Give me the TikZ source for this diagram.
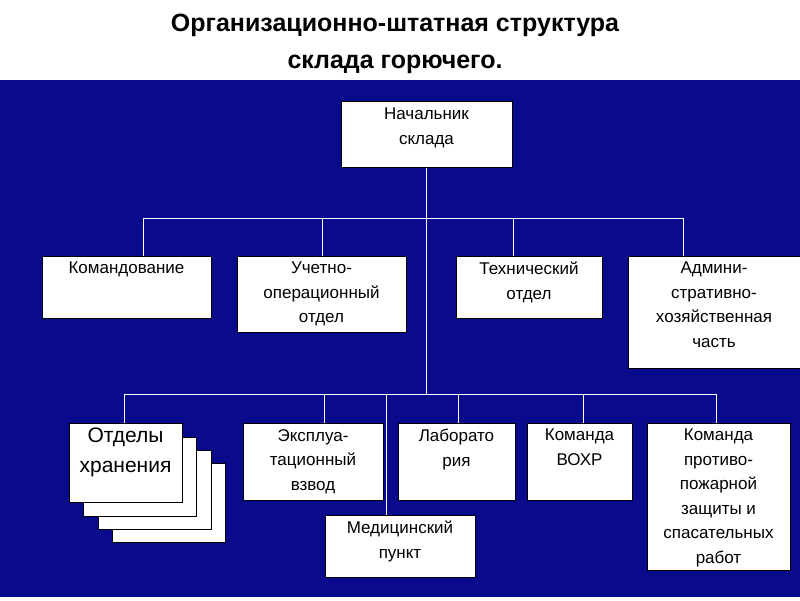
\documentclass[tikz,border=0pt]{standalone}
\usepackage{fontspec}
\setmainfont{Liberation Sans}
\begin{document}
\begin{tikzpicture}[x=1pt,y=-1pt,
 box/.style={draw=black,fill=white,line width=0.6pt},
 txt/.style={align=center,font=\fontsize{17}{24.5}\selectfont,anchor=north,inner sep=0pt},
 ln/.style={draw=white,line width=0.8pt}]
\fill[white] (0,0) rectangle (800,600);
\useasboundingbox (0,0) rectangle (800,600);
\fill[fill={rgb,255:red,10;green,10;blue,140}] (0,80) rectangle (800,597);
\node[font=\bfseries\fontsize{25}{37}\selectfont,align=center] (title) at (395,44) {Организационно-штатная структура\\склада горючего.};
% lines
\coordinate (t1) at (426,218); \coordinate (t2) at (426,394);
\draw[ln] (426,167) -- (t2);
\draw[ln] (143,256) -- (143,218) -- (683,218) -- (683,256);
\draw[ln] (322,218) -- (322,256); \draw[ln] (513,218) -- (513,256);
\draw[ln] (124,423) -- (124,394) -- (716,394) -- (716,423);
\draw[ln] (324,394) -- (324,423); \draw[ln] (386,394) -- (386,515);
\draw[ln] (458,394) -- (458,423); \draw[ln] (583,394) -- (583,423);
% boxes
\draw[box] (341,101) rectangle (512,167);
\node[txt] (a) at (426.5,108) {Начальник\\склада};
\draw[box] (42,256) rectangle (211,318);
\node[txt] (b) at (126.5,262) {Командование};
\draw[box] (237,256) rectangle (406,332);
\node[txt] (c) at (321.5,262) {Учетно-\\операционный\\отдел};
\draw[box] (456,256) rectangle (602,318);
\node[txt] (d) at (529,262) {Технический\\отдел};
\draw[box] (628,256) rectangle (800,368);
\node[txt] (e) at (714,262) {Админи-\\стративно-\\хозяйственная\\часть};
\foreach \dx/\dy in {43/40,29/27,14/14,0/0}
 \draw[box] (69+\dx,423+\dy) rectangle (182+\dx,502+\dy);
\node[txt,font=\fontsize{21}{30}\selectfont] (f) at (125.5,428) {Отделы\\хранения};
\draw[box] (243,423) rectangle (383,500);
\node[txt] (g) at (313,429) {Эксплуа-\\тационный\\взвод};
\draw[box] (398,423) rectangle (515,500);
\node[txt] (h) at (456.5,429) {Лаборато\\рия};
\draw[box] (527,423) rectangle (632,500);
\node[txt] (i) at (579.5,429) {Команда\\ВОХР};
\draw[box] (647,423) rectangle (790,570);
\node[txt] (j) at (718.5,429) {Команда\\противо-\\пожарной\\защиты и\\спасательных\\работ};
\draw[box] (325,515) rectangle (475,577);
\node[txt] (k) at (400,521) {Медицинский\\пункт};
\end{tikzpicture}
\end{document}
